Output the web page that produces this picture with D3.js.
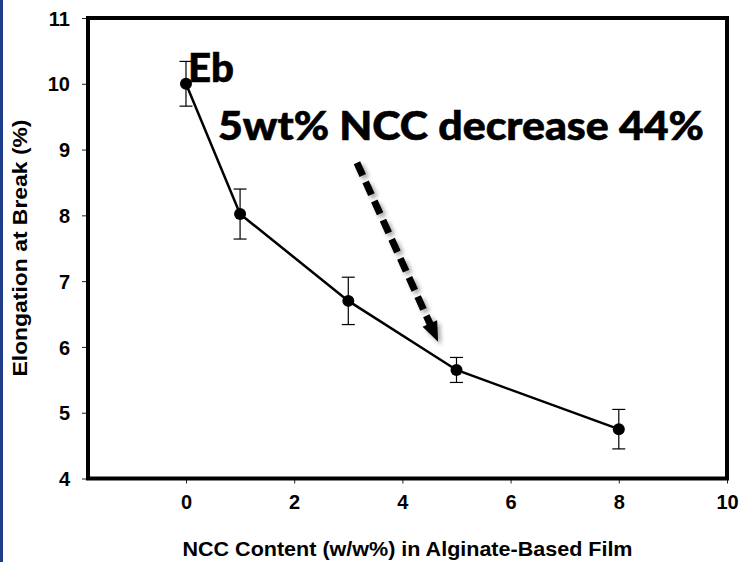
<!DOCTYPE html>
<html>
<head>
<meta charset="utf-8">
<script src="https://cdn.jsdelivr.net/npm/d3@7"></script>
<style>
  html, body { margin: 0; padding: 0; background: #fff; }
  svg { display: block; }
</style>
</head>
<body>
<svg id="chart" width="740" height="562"></svg>
<script>
// NCC content (w/w%) and elongation at break (%) with standard deviations
const nccContent = [0, 1, 3, 5, 8];
const elongation = [10.0, 8.02, 6.7, 5.65, 4.75];
const elongationSd = [0.34, 0.38, 0.36, 0.19, 0.30];

const xTicks = [0, 2, 4, 6, 8, 10];
const yTicks = [4, 5, 6, 7, 8, 9, 10, 11];

// annotation arrow, in data units: [start, tip]
const arrowFrom = [3.16, 8.80];
const arrowTo = [4.66, 6.08];

const svg = d3.select("#chart");
const W = 740, H = 562;
const plotL = 88, plotR = 727, plotT = 18, plotB = 478.5;

// slide edge strip
svg.append("rect").attr("x", 0).attr("y", 0).attr("width", 3).attr("height", H)
  .attr("fill", "#1f3d8a");

const x = d3.scaleLinear().domain([-1.811, 10]).range([plotL, plotR]);
const y = d3.scaleLinear().domain([4, 11]).range([plotB, plotT]);

const defs = svg.append("defs");
const sh = defs.append("filter").attr("id", "shadow")
  .attr("x", "-30%").attr("y", "-30%").attr("width", "160%").attr("height", "160%");
sh.append("feDropShadow").attr("dx", 3).attr("dy", 3).attr("stdDeviation", 2)
  .attr("flood-color", "#000").attr("flood-opacity", 0.35);

// axes
const yAxis = svg.append("g").attr("transform", `translate(${plotL},0)`)
  .call(d3.axisLeft(y).tickValues(yTicks).tickFormat(d3.format("d"))
    .tickSize(6).tickSizeOuter(0).tickPadding(12));
const xAxis = svg.append("g").attr("transform", `translate(0,${plotB})`)
  .call(d3.axisBottom(x).tickValues(xTicks).tickFormat(d3.format("d"))
    .tickSize(5).tickSizeOuter(0).tickPadding(11));

[yAxis, xAxis].forEach(g => {
  g.select(".domain").remove();
  g.selectAll(".tick line").attr("stroke", "#222").attr("stroke-width", 1);
  g.selectAll(".tick text")
    .attr("fill", "#000")
    .style("font-family", "'Liberation Sans', Arial, sans-serif")
    .style("font-weight", "bold")
    .style("font-size", "20px");
});
yAxis.selectAll(".tick text").attr("dy", "0.36em");
xAxis.selectAll(".tick text").attr("dy", "0.72em");

// plot frame
svg.append("rect")
  .attr("x", plotL).attr("y", plotT)
  .attr("width", plotR - plotL).attr("height", plotB - plotT)
  .attr("fill", "none").attr("stroke", "#000").attr("stroke-width", 4);

// axis titles
svg.append("text")
  .attr("x", (plotL + plotR) / 2).attr("y", 556)
  .attr("text-anchor", "middle")
  .attr("textLength", 450).attr("lengthAdjust", "spacingAndGlyphs")
  .style("font-family", "'Liberation Sans', Arial, sans-serif")
  .style("font-weight", "bold").style("font-size", "21px")
  .text("NCC Content (w/w%) in Alginate-Based Film");

svg.append("text")
  .attr("transform", `translate(27,248) rotate(-90)`)
  .attr("text-anchor", "middle")
  .attr("textLength", 257).attr("lengthAdjust", "spacingAndGlyphs")
  .style("font-family", "'Liberation Sans', Arial, sans-serif")
  .style("font-weight", "bold").style("font-size", "21px")
  .text("Elongation at Break (%)");

// error bars
const eb = svg.append("g").attr("stroke", "#000").attr("stroke-width", 1.2);
nccContent.forEach((c, i) => {
  const cx = x(c), hi = y(elongation[i] + elongationSd[i]), lo = y(elongation[i] - elongationSd[i]);
  eb.append("line").attr("x1", cx).attr("x2", cx).attr("y1", hi).attr("y2", lo);
  eb.append("line").attr("x1", cx - 6.5).attr("x2", cx + 6.5).attr("y1", hi).attr("y2", hi);
  eb.append("line").attr("x1", cx - 6.5).attr("x2", cx + 6.5).attr("y1", lo).attr("y2", lo);
});

// data line and markers
const pts = nccContent.map((c, i) => [c, elongation[i]]);
svg.append("path")
  .attr("d", d3.line().x(d => x(d[0])).y(d => y(d[1]))(pts))
  .attr("fill", "none").attr("stroke", "#000").attr("stroke-width", 2.5);
svg.append("g").selectAll("circle").data(pts).join("circle")
  .attr("cx", d => x(d[0])).attr("cy", d => y(d[1])).attr("r", 6)
  .attr("fill", "#000");

// annotation text
const noteStyle = sel => sel
  .style("font-family", "Lato, 'Open Sans', sans-serif")
  .style("font-weight", "900")
  .attr("fill", "#000").attr("stroke", "#000").attr("stroke-width", 0.6);

svg.append("text")
  .attr("x", 188).attr("y", 82)
  .attr("textLength", 46).attr("lengthAdjust", "spacingAndGlyphs")
  .style("font-size", "40px").call(noteStyle)
  .text("Eb");

svg.append("text")
  .attr("x", 218).attr("y", 140)
  .attr("textLength", 486).attr("lengthAdjust", "spacingAndGlyphs")
  .style("font-size", "39px").call(noteStyle)
  .text("5wt% NCC decrease 44%");

// dashed arrow
const x0 = x(arrowFrom[0]), y0 = y(arrowFrom[1]);
const x1 = x(arrowTo[0]), y1 = y(arrowTo[1]);
const len = Math.hypot(x1 - x0, y1 - y0);
const ux = (x1 - x0) / len, uy = (y1 - y0) / len;
const headLen = 20, headHalf = 8;
const bx = x1 - ux * headLen, by = y1 - uy * headLen;
const ag = svg.append("g").attr("filter", "url(#shadow)");
ag.append("line")
  .attr("x1", x0).attr("y1", y0).attr("x2", bx + ux * 2).attr("y2", by + uy * 2)
  .attr("stroke", "#000").attr("stroke-width", 7)
  .attr("stroke-dasharray", "14 7");
ag.append("path")
  .attr("d", `M${x1},${y1} L${bx - uy * headHalf},${by + ux * headHalf} L${bx + uy * headHalf},${by - ux * headHalf} Z`)
  .attr("fill", "#000");
</script>
</body>
</html>
